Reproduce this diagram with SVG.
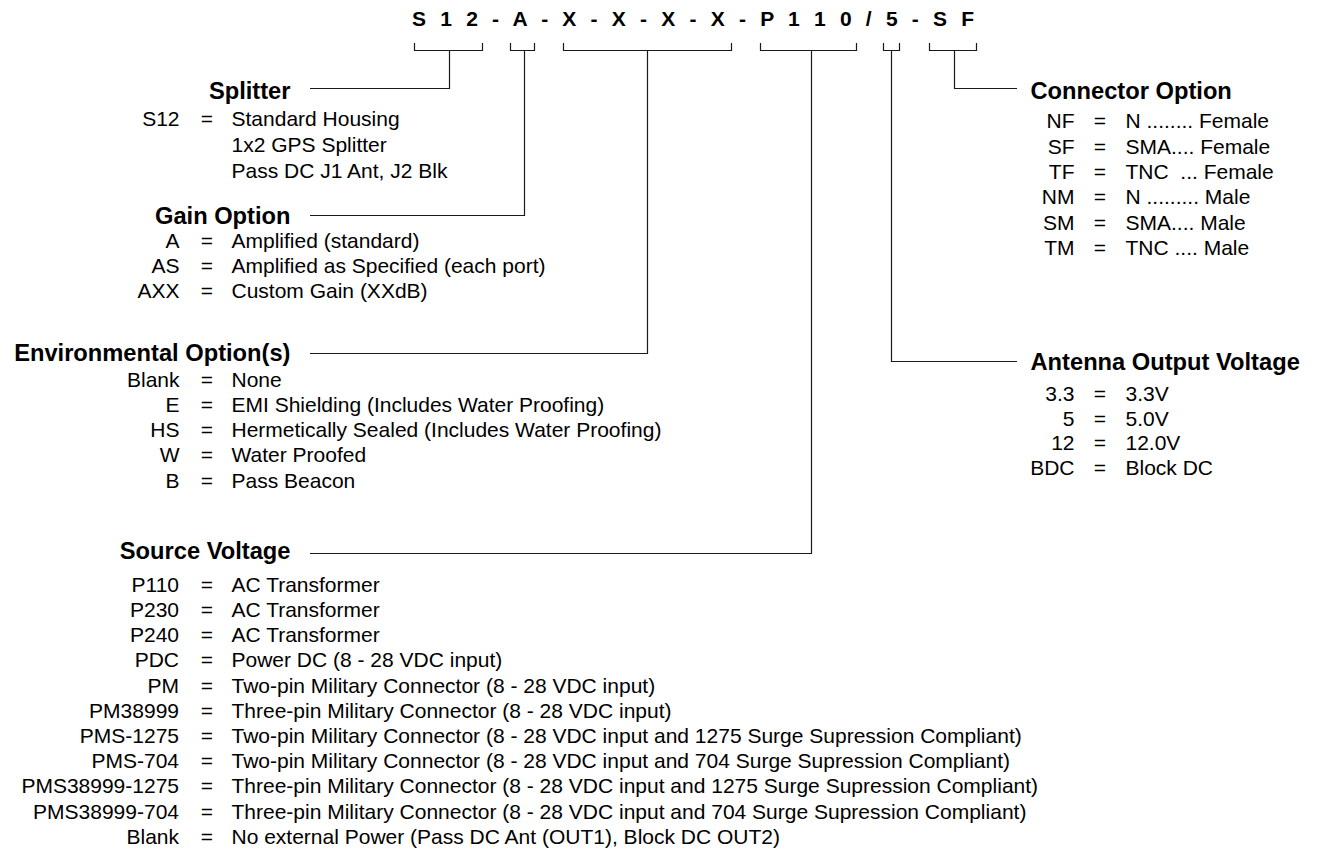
<svg xmlns="http://www.w3.org/2000/svg" width="1320" height="852" viewBox="0 0 1320 852">
<style>
text{font-family:"Liberation Sans",Arial,sans-serif;fill:#000;white-space:pre}
.hdr{font-size:21px;font-weight:bold;letter-spacing:4.2px}
.ttl{font-size:23.7px;font-weight:bold}
.b{font-size:21px}
.e{text-anchor:end}
.m{text-anchor:middle}
.ln{fill:none;stroke:#1a1a1a;stroke-width:1.2}
</style>
<rect width="1320" height="852" fill="#fff"/>
<g id="part-number">
<text class="hdr" x="412" y="26">S 1 2 - A - X - X - X - X - P 1 1 0 / 5 - S F</text>
</g>
<g id="connectors" class="ln">
<path d="M414.5 43V50.5H482.5V43M449.5 50.5V88.5H310"/>
<path d="M510.5 43V50.5H534.5V43M524.5 50.5V215.5H310"/>
<path d="M563.5 43V50.5H731.5V43M647.5 50.5V353.5H310"/>
<path d="M760.5 43V50.5H856.5V43M811.5 50.5V553.5H310"/>
<path d="M883.5 43V50.5H899.5V43M891.5 50.5V361.5H1017"/>
<path d="M929.5 43V50.5H976.5V43M954.5 50.5V88.5H1017"/>
</g>
<g id="splitter">
<text class="ttl e" x="290.5" y="98.5">Splitter</text>
<text class="b e" x="179.5" y="126">S12</text><text class="b m" x="207" y="126">=</text><text class="b" x="231.5" y="126">Standard Housing</text>
<text class="b" x="231.5" y="152">1x2 GPS Splitter</text>
<text class="b" x="231.5" y="178">Pass DC J1 Ant, J2 Blk</text>
</g>
<g id="gain-option">
<text class="ttl e" x="290.5" y="223.5">Gain Option</text>
<text class="b e" x="179.5" y="248.3">A</text><text class="b m" x="207" y="248.3">=</text><text class="b" x="231.5" y="248.3">Amplified (standard)</text>
<text class="b e" x="179.5" y="273.3">AS</text><text class="b m" x="207" y="273.3">=</text><text class="b" x="231.5" y="273.3">Amplified as Specified (each port)</text>
<text class="b e" x="179.5" y="298.3">AXX</text><text class="b m" x="207" y="298.3">=</text><text class="b" x="231.5" y="298.3">Custom Gain (XXdB)</text>
</g>
<g id="environmental-options">
<text class="ttl e" x="290.5" y="361">Environmental Option(s)</text>
<text class="b e" x="179.5" y="386.7">Blank</text><text class="b m" x="207" y="386.7">=</text><text class="b" x="231.5" y="386.7">None</text>
<text class="b e" x="179.5" y="411.9">E</text><text class="b m" x="207" y="411.9">=</text><text class="b" x="231.5" y="411.9">EMI Shielding (Includes Water Proofing)</text>
<text class="b e" x="179.5" y="437.1">HS</text><text class="b m" x="207" y="437.1">=</text><text class="b" x="231.5" y="437.1">Hermetically Sealed (Includes Water Proofing)</text>
<text class="b e" x="179.5" y="462.3">W</text><text class="b m" x="207" y="462.3">=</text><text class="b" x="231.5" y="462.3">Water Proofed</text>
<text class="b e" x="179.5" y="487.5">B</text><text class="b m" x="207" y="487.5">=</text><text class="b" x="231.5" y="487.5">Pass Beacon</text>
</g>
<g id="source-voltage">
<text class="ttl e" x="290.5" y="559">Source Voltage</text>
<text class="b e" x="179" y="591.7">P110</text><text class="b m" x="207" y="591.7">=</text><text class="b" x="231.5" y="591.7">AC Transformer</text>
<text class="b e" x="179" y="616.9">P230</text><text class="b m" x="207" y="616.9">=</text><text class="b" x="231.5" y="616.9">AC Transformer</text>
<text class="b e" x="179" y="642.1">P240</text><text class="b m" x="207" y="642.1">=</text><text class="b" x="231.5" y="642.1">AC Transformer</text>
<text class="b e" x="179" y="667.3">PDC</text><text class="b m" x="207" y="667.3">=</text><text class="b" x="231.5" y="667.3">Power DC (8 - 28 VDC input)</text>
<text class="b e" x="179" y="692.5">PM</text><text class="b m" x="207" y="692.5">=</text><text class="b" x="231.5" y="692.5">Two-pin Military Connector (8 - 28 VDC input)</text>
<text class="b e" x="179" y="717.7">PM38999</text><text class="b m" x="207" y="717.7">=</text><text class="b" x="231.5" y="717.7">Three-pin Military Connector (8 - 28 VDC input)</text>
<text class="b e" x="179" y="742.9">PMS-1275</text><text class="b m" x="207" y="742.9">=</text><text class="b" x="231.5" y="742.9">Two-pin Military Connector (8 - 28 VDC input and 1275 Surge Supression Compliant)</text>
<text class="b e" x="179" y="768.1">PMS-704</text><text class="b m" x="207" y="768.1">=</text><text class="b" x="231.5" y="768.1">Two-pin Military Connector (8 - 28 VDC input and 704 Surge Supression Compliant)</text>
<text class="b e" x="179" y="793.3">PMS38999-1275</text><text class="b m" x="207" y="793.3">=</text><text class="b" x="231.5" y="793.3">Three-pin Military Connector (8 - 28 VDC input and 1275 Surge Supression Compliant)</text>
<text class="b e" x="179" y="818.5">PMS38999-704</text><text class="b m" x="207" y="818.5">=</text><text class="b" x="231.5" y="818.5">Three-pin Military Connector (8 - 28 VDC input and 704 Surge Supression Compliant)</text>
<text class="b e" x="179" y="843.7">Blank</text><text class="b m" x="207" y="843.7">=</text><text class="b" x="231.5" y="843.7">No external Power (Pass DC Ant (OUT1), Block DC OUT2)</text>
</g>
<g id="connector-option">
<text class="ttl" x="1030.5" y="99">Connector Option</text>
<text class="b e" x="1074.5" y="128.3">NF</text><text class="b m" x="1100" y="128.3">=</text><text class="b" x="1125.5" y="128.3">N ........ Female</text>
<text class="b e" x="1074.5" y="153.6">SF</text><text class="b m" x="1100" y="153.6">=</text><text class="b" x="1125.5" y="153.6">SMA.... Female</text>
<text class="b e" x="1074.5" y="178.9">TF</text><text class="b m" x="1100" y="178.9">=</text><text class="b" x="1125.5" y="178.9">TNC  ... Female</text>
<text class="b e" x="1074.5" y="204.2">NM</text><text class="b m" x="1100" y="204.2">=</text><text class="b" x="1125.5" y="204.2">N ......... Male</text>
<text class="b e" x="1074.5" y="229.5">SM</text><text class="b m" x="1100" y="229.5">=</text><text class="b" x="1125.5" y="229.5">SMA.... Male</text>
<text class="b e" x="1074.5" y="254.8">TM</text><text class="b m" x="1100" y="254.8">=</text><text class="b" x="1125.5" y="254.8">TNC .... Male</text>
</g>
<g id="antenna-output-voltage">
<text class="ttl" x="1030.5" y="370">Antenna Output Voltage</text>
<text class="b e" x="1074.5" y="400.7">3.3</text><text class="b m" x="1100" y="400.7">=</text><text class="b" x="1125.5" y="400.7">3.3V</text>
<text class="b e" x="1074.5" y="425.5">5</text><text class="b m" x="1100" y="425.5">=</text><text class="b" x="1125.5" y="425.5">5.0V</text>
<text class="b e" x="1074.5" y="450.3">12</text><text class="b m" x="1100" y="450.3">=</text><text class="b" x="1125.5" y="450.3">12.0V</text>
<text class="b e" x="1074.5" y="475.1">BDC</text><text class="b m" x="1100" y="475.1">=</text><text class="b" x="1125.5" y="475.1">Block DC</text>
</g>
</svg>
